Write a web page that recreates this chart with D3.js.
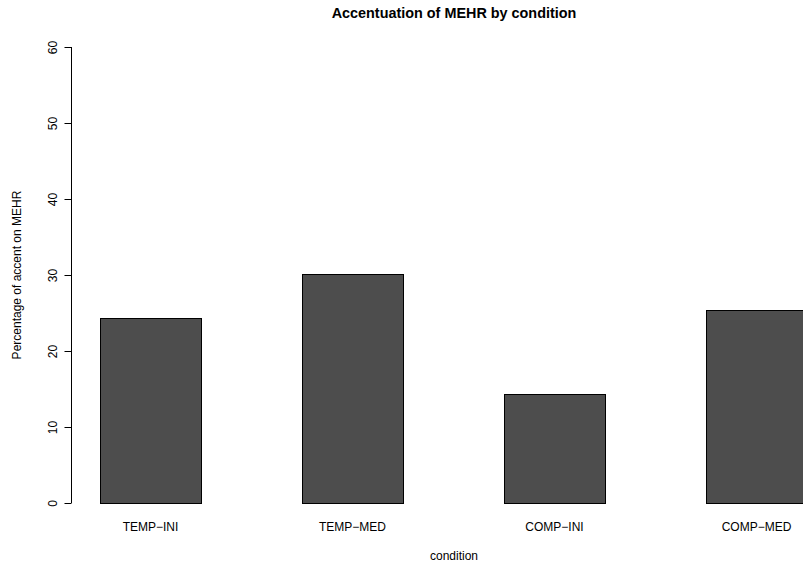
<!DOCTYPE html>
<html>
<head>
<meta charset="utf-8">
<script src="https://cdn.jsdelivr.net/npm/d3@7"></script>
<style>
  html, body { margin: 0; padding: 0; background: #fff; }
  svg { display: block; font-family: "Liberation Sans", Arial, Helvetica, sans-serif; }
</style>
</head>
<body>
<svg id="chart" width="803" height="563"></svg>
<script>
const categories = ["TEMP\u2212INI", "TEMP\u2212MED", "COMP\u2212INI", "COMP\u2212MED"];
const values = [24.3, 30.1, 14.4, 25.4];
const yTicks = [0, 10, 20, 30, 40, 50, 60];
const titleText = "Accentuation of MEHR by condition";
const xTitle = "condition";
const yTitle = "Percentage of accent on MEHR";

const svg = d3.select("#chart");

const x = d3.scaleBand().domain(categories).range([-1, 908]).paddingInner(0.5).paddingOuter(0.5);
const y = d3.scaleLinear().domain([0, 60]).range([503, 47]);

// bars
svg.append("g").selectAll("rect")
  .data(categories.map((c, i) => ({ c, v: values[i] })))
  .join("rect")
  .attr("x", d => Math.round(x(d.c)) + 0.5)
  .attr("y", d => Math.round(y(d.v)) + 0.5)
  .attr("width", Math.round(x.bandwidth()))
  .attr("height", d => Math.round(y(0)) - Math.round(y(d.v)))
  .attr("fill", "#4d4d4d")
  .attr("stroke", "#000")
  .attr("stroke-width", 1);

// y axis
const yAxis = d3.axisLeft(y).tickValues(yTicks).tickSize(7).tickPadding(0).tickFormat(d3.format("d"));
const gy = svg.append("g").attr("transform", "translate(71.5,0)").call(yAxis);
gy.select(".domain").attr("stroke", "#000").attr("d", `M0,${y(0)}V${y(60)}`);
gy.selectAll(".tick line").attr("stroke", "#000");
gy.selectAll(".tick text")
  .attr("x", 0).attr("y", 0).attr("dy", null)
  .attr("transform", "translate(-14.5,0) rotate(-90)")
  .attr("text-anchor", "middle")
  .attr("font-size", 12)
  .attr("font-family", "Liberation Sans, Arial, sans-serif")
  .attr("fill", "#000");

// x axis category labels (no line)
const xAxis = d3.axisBottom(x).tickSize(0).tickPadding(0);
const gx = svg.append("g").attr("transform", "translate(0,520)").call(xAxis);
gx.select(".domain").remove();
gx.selectAll(".tick text")
  .attr("y", 0).attr("dy", "0.92em")
  .attr("font-size", 12)
  .attr("font-family", "Liberation Sans, Arial, sans-serif")
  .attr("fill", "#000");

// title
svg.append("text")
  .attr("x", 454).attr("y", 18)
  .attr("text-anchor", "middle")
  .attr("font-size", 14.4)
  .attr("font-weight", "bold")
  .text(titleText);

// x title
svg.append("text")
  .attr("x", 454).attr("y", 560)
  .attr("text-anchor", "middle")
  .attr("font-size", 12)
  .text(xTitle);

// y title
svg.append("text")
  .attr("transform", `translate(21,${(y(0) + y(60)) / 2}) rotate(-90)`)
  .attr("text-anchor", "middle")
  .attr("font-size", 12)
  .text(yTitle);
</script>
</body>
</html>
